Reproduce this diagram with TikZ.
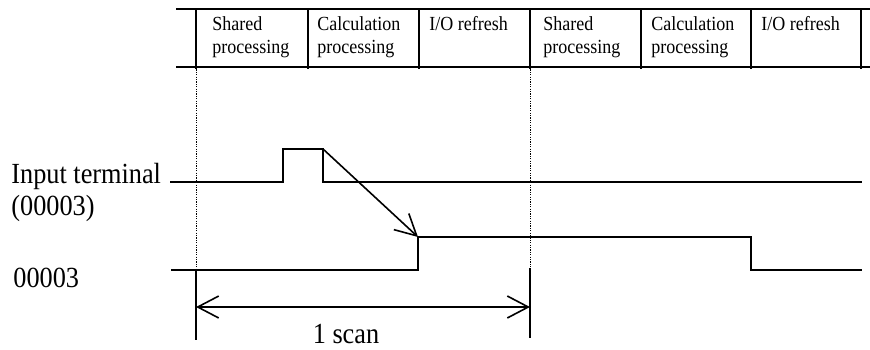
\documentclass[tikz,border=0pt]{standalone}
\usepackage{fontspec}
\newfontfamily\tsfont{Liberation Serif}[FakeStretch=0.9]
\usepackage{tikz}
\usetikzlibrary{arrows.meta,positioning}
\tikzset{
  >={Straight Barb[length=10.5pt,width=11pt]},
  hdr/.style={font=\tsfont\fontsize{10}{11.6}\selectfont,align=left,anchor=north west,inner sep=0pt},
  lbl/.style={font=\tsfont\fontsize{14.6}{16}\selectfont,align=left,inner sep=0pt},
  frame/.style={line width=1pt},
  sig/.style={line width=0.8pt},
  guide/.style={line width=0.5pt,dash pattern=on 0.6pt off 0.6pt},
}
\begin{document}
\begin{tikzpicture}[x=0.5pt,y=-0.5pt]
\useasboundingbox (0,0) rectangle (870,349);
% scan table
\draw[frame] (176,9) -- (870,9) (176,67) -- (870,67);
\foreach \x in {196,308,419,530,641,751,861}
  \draw[frame] (\x,9) -- (\x,69);
\foreach \i/\x/\t in {1/212/{Shared\\processing},2/317/{Calculation\\processing},3/429/{I/O refresh},
                      4/543/{Shared\\processing},5/651/{Calculation\\processing},6/761/{I/O refresh}}
  \node[hdr] (h\i) at (\x,16) {\t};
% signals
\node[lbl,anchor=north west] (inlbl) at (11,163) {Input terminal\\(00003)};
\node[lbl,anchor=base west] (outlbl) at (13,287) {00003};
\coordinate (pulse) at (323,149);
\coordinate (rise) at (418,237);
\draw[sig] (170,182) -- (283,182) |- (pulse) -- (323,182) -- (862,182);
\draw[sig] (171,270) -| (rise) -| (751,270) -- (862,270);
\draw[sig,->] (pulse) -- (rise);
% one scan
\coordinate (d0) at (196,307);
\coordinate (d1) at (530,307);
\draw[guide] (196,67) -- (196,270);
\draw[guide] (530,67) -- (530,268);
\draw[sig] (196,270) -- (196,340) (530,268) -- (530,338);
\draw[sig,<->] (d0) -- (d1);
\node[lbl,anchor=base] (scan) at (346,343) {1 scan};
\end{tikzpicture}
\end{document}
